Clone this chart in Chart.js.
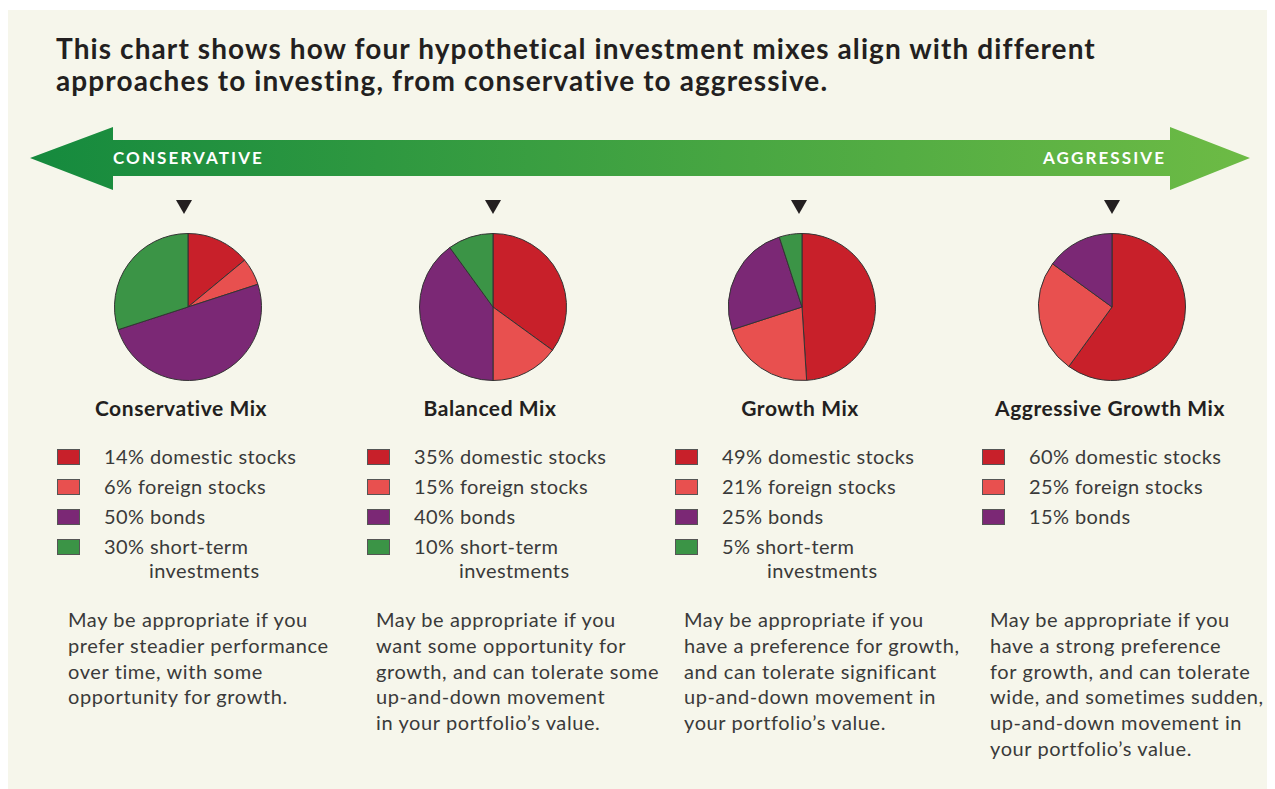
<!DOCTYPE html>
<html>
<head>
<meta charset="utf-8">
<script src="https://cdn.jsdelivr.net/npm/chart.js@4/dist/chart.umd.min.js"></script>
<style>
    body { margin: 0; background: #ffffff; font-family: Lato, "Open Sans", sans-serif; color: #333; }
    #page { position: relative; width: 1275px; height: 789px; overflow: hidden; }
    #panel { position: absolute; left: 8px; top: 10px; width: 1259px; height: 779px; background: #f6f6eb; }
    .abs { position: absolute; white-space: nowrap; }
    #title { left: 56px; top: 32px; font-size: 28px; font-weight: 700; line-height: 32px; letter-spacing: 1.1px; color: #231f20; }
    .arrowLabel { color: #fff; font-size: 17px; font-weight: 700; letter-spacing: 2.1px; line-height: 20px; }
    .tri { width: 0; height: 0; border-left: 8px solid transparent; border-right: 8px solid transparent; border-top: 14px solid #231f20; }
    .pie { position: absolute; width: 160px; height: 160px; }
    .mixTitle { font-size: 21px; font-weight: 700; letter-spacing: 0.55px; color: #231f20; transform: translateX(-50%); line-height: 24px; }
    .swatch { position: absolute; width: 21px; height: 14px; border: 1px solid #555; }
    .legText { font-size: 20px; letter-spacing: 0.4px; line-height: 24px; color: #3a3a3a; }
    .desc { font-size: 20px; letter-spacing: 0.6px; line-height: 25.8px; color: #3a3a3a; }
</style>
</head>
<body>
<div id="page">
    <div id="panel"></div>
    <svg class="abs" style="left:0;top:0" width="1275" height="230">
        <defs>
            <linearGradient id="arrowGrad" x1="30" y1="0" x2="1250" y2="0" gradientUnits="userSpaceOnUse">
                <stop offset="0" stop-color="#158a3e"/>
                <stop offset="1" stop-color="#6dbb45"/>
            </linearGradient>
        </defs>
        <polygon fill="url(#arrowGrad)" points="30,158 113,127 113,140 1170,140 1170,127 1250,158 1170,190 1170,176 113,176 113,190"/>
    </svg>
    <div class="abs arrowLabel" style="left:113px;top:148px">CONSERVATIVE</div>
    <div class="abs arrowLabel" style="left:1043px;top:148px">AGGRESSIVE</div>
    <div id="title" class="abs">This chart shows how four hypothetical investment mixes align with different<br>approaches to investing, from conservative to aggressive.</div>
</div>
<script>
const mixNames = ["Conservative Mix", "Balanced Mix", "Growth Mix", "Aggressive Growth Mix"];
const categories = ["domestic stocks", "foreign stocks", "bonds", "short-term investments"];
const categoryColors = ["#c8202a", "#e8504f", "#7b2875", "#3b9446"];

const conservativeValues = [14, 6, 50, 30];
const balancedValues = [35, 15, 40, 10];
const growthValues = [49, 21, 25, 5];
const aggressiveValues = [60, 25, 15];

const descConservative = ["May be appropriate if you", "prefer steadier performance", "over time, with some", "opportunity for growth."];
const descBalanced = ["May be appropriate if you", "want some opportunity for", "growth, and can tolerate some", "up-and-down movement", "in your portfolio\u2019s value."];
const descGrowth = ["May be appropriate if you", "have a preference for growth,", "and can tolerate significant", "up-and-down movement in", "your portfolio\u2019s value."];
const descAggressive = ["May be appropriate if you", "have a strong preference", "for growth, and can tolerate", "wide, and sometimes sudden,", "up-and-down movement in", "your portfolio\u2019s value."];

const allValues = [conservativeValues, balancedValues, growthValues, aggressiveValues];
const allDescs = [descConservative, descBalanced, descGrowth, descAggressive];

// layout per column
const pieCenters = [188, 493, 802, 1112];
const triCenters = [184, 493, 799, 1112];
const titleCenters = [181, 490, 800, 1110];
const legendLefts = [57, 367, 675, 982];
const descLefts = [68, 376, 684, 990];

const page = document.getElementById("page");

function addDiv(cls, left, top, html) {
    const d = document.createElement("div");
    d.className = "abs " + cls;
    d.style.left = left + "px";
    d.style.top = top + "px";
    d.innerHTML = html;
    page.appendChild(d);
    return d;
}

allValues.forEach((values, col) => {
    const cx = pieCenters[col];

    addDiv("tri", triCenters[col] - 8, 200, "");

    const holder = document.createElement("div");
    holder.className = "pie";
    holder.style.left = (cx - 80) + "px";
    holder.style.top = (307 - 80) + "px";
    const canvas = document.createElement("canvas");
    canvas.width = 160;
    canvas.height = 160;
    holder.appendChild(canvas);
    page.appendChild(holder);

    new Chart(canvas.getContext("2d"), {
        type: "pie",
        data: {
            labels: categories.slice(0, values.length),
            datasets: [{
                data: values,
                backgroundColor: categoryColors.slice(0, values.length),
                borderColor: "#333333",
                borderWidth: 1
            }]
        },
        options: {
            responsive: false,
            animation: false,
            layout: { padding: 6 },
            plugins: {
                legend: { display: false },
                tooltip: { enabled: false }
            }
        }
    });

    addDiv("mixTitle", titleCenters[col], 396, mixNames[col]);

    values.forEach((v, i) => {
        const top = 444 + i * 30;
        const sw = addDiv("swatch", legendLefts[col], top + 5, "");
        sw.style.background = categoryColors[i];
        let label = v + "% " + categories[i];
        if (categories[i] === "short-term investments") {
            label = v + "% short-term<br><span style=\"padding-left:45px\">investments</span>";
        }
        addDiv("legText", legendLefts[col] + 47, top, label);
    });

    addDiv("desc", descLefts[col], 607, allDescs[col].join("<br>"));
});
</script>
</body>
</html>
